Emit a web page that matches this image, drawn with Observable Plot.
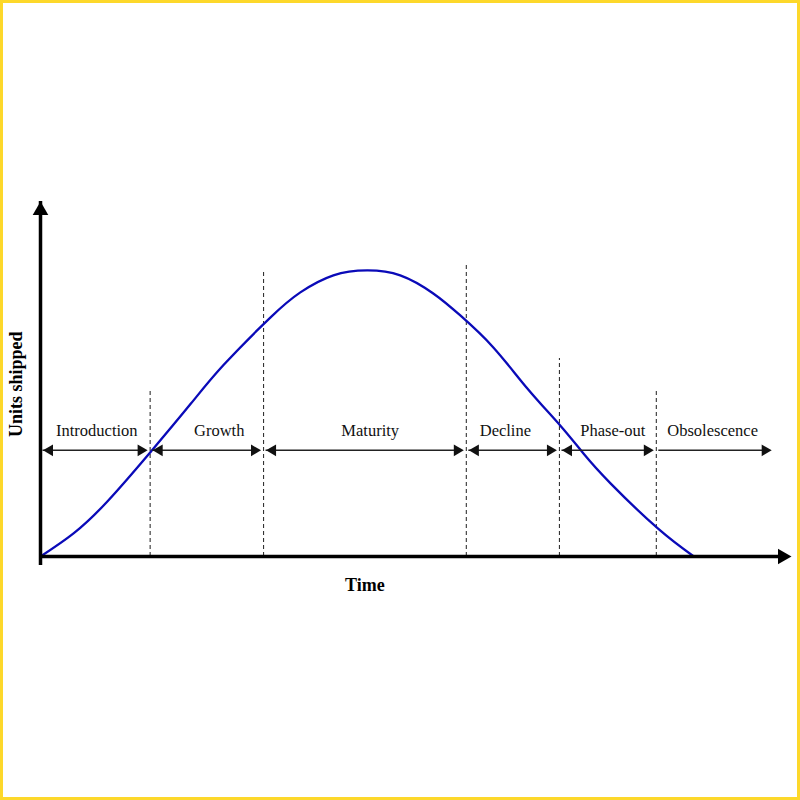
<!DOCTYPE html>
<html>
<head>
<meta charset="utf-8">
<script src="https://cdn.jsdelivr.net/npm/d3@7"></script>
<script src="https://cdn.jsdelivr.net/npm/@observablehq/plot@0.6"></script>
<style>
  html, body { margin: 0; padding: 0; background: #fff; }
  #chart svg { display: block; outline: 3px solid #fdd82a; outline-offset: -3px; }
</style>
</head>
<body>
<div id="chart"></div>
<script>
// Product life cycle: units shipped over time (arbitrary units, 0–100 on both axes)
const curveTime  = [0, 4.4, 8.9, 14.6, 20.0, 24.4, 30.6, 34.6, 39.0, 43.5, 47.9, 52.3, 55.9, 60.3, 64.8, 69.2, 72.3, 75.9, 82.2, 87.0];
const curveUnits = [0, 6.5, 15.5, 29.3, 43.0, 54.0, 67.3, 74.4, 79.2, 80.6, 79.2, 74.1, 67.9, 58.9, 47.4, 36.9, 29.0, 20.6, 7.9, 0];

// Phases
const phases     = ["Introduction", "Growth", "Maturity", "Decline", "Phase-out", "Obsolescence"];
const phaseStart = [0, 14.6, 29.7, 56.7, 69.1, 82.0];
const phaseEnd   = [14.6, 29.7, 56.7, 69.1, 82.0, 97.7];
const labelTime  = [7.5, 23.8, 43.9, 61.9, 76.2, 89.5];
const arrowLevel = 29.9;

// Dashed phase boundaries and how high each one reaches
const boundaryTime = [14.6, 29.7, 56.7, 69.1, 82.0];
const boundaryTop  = [47.0, 80.3, 82.0, 55.8, 47.0];

const axisMax = 100;

const curve = curveTime.map((t, i) => ({t, u: curveUnits[i]}));
const phaseRows = phases.map((name, i) => ({
  name, start: phaseStart[i], end: phaseEnd[i], label: labelTime[i],
  open: name === "Obsolescence"   // last phase has no left head
}));
const bounds = boundaryTime.map((t, i) => ({t, top: boundaryTop[i]}));

const serif = "Liberation Serif, Times New Roman, serif";
const headR = 4.3;                    // triangle heads of the phase arrows
const headTip = 2 * Math.sqrt(Math.PI * headR * headR / (3 * Math.sqrt(3)));
const axisR = 5.8;                    // heads of the two axes
const axisTip = 2 * Math.sqrt(Math.PI * axisR * axisR / (3 * Math.sqrt(3)));
const gap = 2.5;

const chart = Plot.plot({
  width: 800, height: 800,
  marginLeft: 40, marginRight: 9, marginTop: 201, marginBottom: 244,
  x: {domain: [0, axisMax], axis: null},
  y: {domain: [0, axisMax], axis: null},
  style: {fontFamily: serif, background: "#fff"},
  marks: [
    // dashed boundaries
    Plot.ruleX(bounds, {x: "t", y1: 0, y2: "top", stroke: "#333", strokeWidth: 1.1, strokeDasharray: "4 3"}),
    // life-cycle curve
    Plot.line(curve, {x: "t", y: "u", curve: "natural", stroke: "#0a0ab8", strokeWidth: 2.3}),
    // phase arrows
    Plot.ruleY(phaseRows, {y: arrowLevel, x1: "start", x2: "end", insetLeft: gap, insetRight: gap + 4, stroke: "#222", strokeWidth: 1.5}),
    Plot.dot(phaseRows.filter(d => !d.open), {
      x: "start", y: arrowLevel, symbol: "triangle", r: headR, rotate: -90,
      dx: gap + headTip, fill: "#111", stroke: "none"
    }),
    Plot.dot(phaseRows, {
      x: "end", y: arrowLevel, symbol: "triangle", r: headR, rotate: 90,
      dx: -(gap + headTip), fill: "#111", stroke: "none"
    }),
    Plot.text(phaseRows, {x: "label", y: arrowLevel, text: "name", dy: -20, fontSize: 16.5, fill: "#111"}),
    // axes
    Plot.ruleX([0], {y1: 0, y2: axisMax, insetTop: axisTip, stroke: "#000", strokeWidth: 3.5}),
    Plot.ruleY([0], {x1: 0, x2: axisMax, insetRight: axisTip, stroke: "#000", strokeWidth: 3.5}),
    Plot.dot([axisMax], {x: 0, y: d => d, symbol: "triangle", r: axisR, dy: axisTip, fill: "#000", stroke: "none"}),
    Plot.dot([axisMax], {x: d => d, y: 0, symbol: "triangle", r: axisR, rotate: 90, dx: -axisTip, fill: "#000", stroke: "none"}),
    // axis titles
    Plot.text(["Time"], {x: 43.2, y: 0, text: d => d, dy: 29, fontSize: 18, fontWeight: "bold", fill: "#000"}),
    Plot.text(["Units shipped"], {x: 0, y: 48.5, text: d => d, dx: -24, rotate: -90, fontSize: 18, fontWeight: "bold", fill: "#000"})
  ]
});
document.getElementById("chart").appendChild(chart);
</script>
</body>
</html>
